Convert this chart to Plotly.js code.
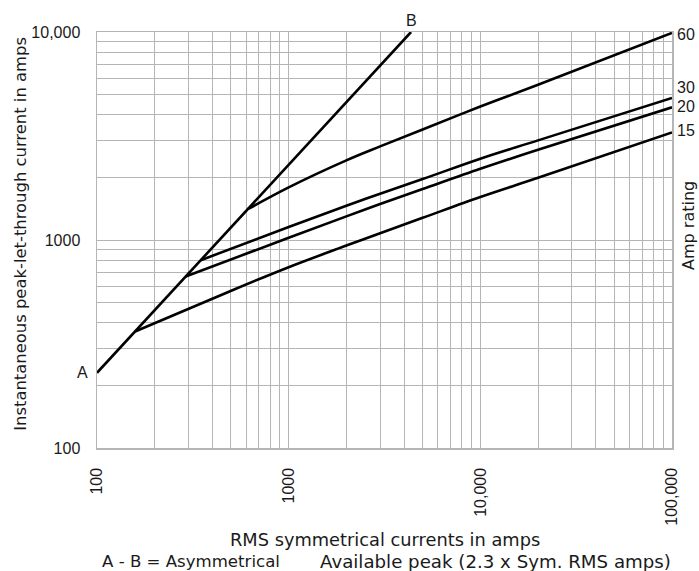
<!DOCTYPE html>
<html>
<head>
<meta charset="utf-8">
<script src="https://cdn.plot.ly/plotly-3.0.1.min.js"></script>
<style>html,body{margin:0;padding:0;background:#fff;}#chart{width:699px;height:571px;}</style>
</head>
<body>
<div id="chart"></div>
<script>
// Asymmetrical available peak line A-B
const xAB = [100, 4350];
const yAB = [230, 10000];

// Let-through curves by amp rating
const x15 = [158, 516, 1000, 2000, 3000, 5000, 10000, 20000, 100000];
const y15 = [363, 577, 740, 940, 1078, 1278, 1610, 1990, 3290];

const x20 = [290, 1000, 2000, 3000, 5000, 10000, 20000, 100000];
const y20 = [667, 1026, 1299, 1489, 1758, 2200, 2716, 4342];

const x30 = [348, 1000, 2000, 3000, 5000, 10000, 20000, 100000];
const y30 = [800, 1155, 1462, 1670, 1963, 2460, 3013, 4819];

const x60 = [615, 1000, 2000, 3000, 5000, 10000, 20000, 100000];
const y60 = [1410, 1791, 2415, 2818, 3400, 4380, 5580, 9900];

const ratingLabels = ['15', '20', '30', '60'];

const xDecadeLabels = ['100', '1000', '10,000', '100,000'];
const yDecadeLabels = ['100', '1000', '10,000'];

function logGrid(startExp, endExp, labels) {
  const vals = [], text = [];
  let li = 0;
  for (let e = startExp; e <= endExp; e++) {
    const base = Math.pow(10, e);
    for (let m = 1; m <= 9; m++) {
      if (e === endExp && m > 1) break;
      vals.push(m * base);
      text.push(m === 1 ? labels[li++] : '');
    }
  }
  return {vals, text};
}
const xg = logGrid(2, 5, xDecadeLabels);
const yg = logGrid(2, 4, yDecadeLabels);

const lineStyle = {color: '#000', width: 2.6, shape: 'spline', smoothing: 1.0};
const traces = [
  {x: xAB, y: yAB, mode: 'lines', line: {color: '#000', width: 2.6}},
  {x: x15, y: y15, mode: 'lines', line: lineStyle},
  {x: x20, y: y20, mode: 'lines', line: lineStyle},
  {x: x30, y: y30, mode: 'lines', line: lineStyle},
  {x: x60, y: y60, mode: 'lines', line: lineStyle}
];

const fnt = {family: 'Liberation Sans, Arial, sans-serif', size: 16, color: '#1a1a1a'};
const wideFam = 'DejaVu Sans, sans-serif';
const ends = [y15, y20, y30, y60];
const shifts = [2, 1, 10, -2];
const annotations = ratingLabels.map((t, i) => ({
  text: t, xref: 'paper', x: 1, xanchor: 'left', xshift: 3,
  yref: 'y', y: Math.log10(ends[i][ends[i].length - 1]), yshift: shifts[i],
  showarrow: false, font: fnt
}));
annotations.push(
  {text: 'A', xref: 'paper', x: 0, xanchor: 'right', xshift: -7, yref: 'y', y: Math.log10(yAB[0]),
   showarrow: false, font: fnt},
  {text: 'B', xref: 'x', x: Math.log10(xAB[1]), yref: 'paper', y: 1, yanchor: 'bottom', yshift: 1,
   showarrow: false, font: fnt},
  {text: 'Amp rating', xref: 'paper', x: 1, xanchor: 'left', xshift: 5, yref: 'paper', y: 0.535,
   textangle: -90, showarrow: false, font: {family: wideFam, size: 16, color: '#1a1a1a'}},
  {text: 'Instantaneous peak-let-through current in amps', xref: 'paper', x: 0, xanchor: 'center', xshift: -76,
   yref: 'paper', y: 0.515, textangle: -90, showarrow: false, font: {family: wideFam, size: 16.4, color: '#1a1a1a'}},
  {text: 'RMS symmetrical currents in amps', xref: 'paper', x: 0.5, yref: 'paper', y: 0, yanchor: 'middle', yshift: -91,
   showarrow: false, font: {family: wideFam, size: 17.8, color: '#1a1a1a'}},
  {text: 'A - B = Asymmetrical', xref: 'paper', x: 0, xanchor: 'right', xshift: 185,
   yref: 'paper', y: 0, yanchor: 'middle', yshift: -113, showarrow: false, font: {family: wideFam, size: 16.6, color: '#1a1a1a'}},
  {text: 'Available peak (2.3 x Sym. RMS amps)', xref: 'paper', x: 0, xanchor: 'left', xshift: 221,
   yref: 'paper', y: 0, yanchor: 'middle', yshift: -113, showarrow: false, font: {family: wideFam, size: 18.2, color: '#1a1a1a'}}
);

const layout = {
  width: 699, height: 571,
  margin: {l: 97, r: 27, t: 32, b: 123},
  paper_bgcolor: '#fff', plot_bgcolor: '#fff',
  showlegend: false,
  font: fnt,
  xaxis: {
    type: 'log', range: [2, 5], tickmode: 'array', tickvals: xg.vals, ticktext: xg.text,
    tickangle: -90, showgrid: true, gridcolor: '#b5b5b5', gridwidth: 1,
    showline: true, linecolor: '#b5b5b5', linewidth: 1.5, mirror: true,
    ticks: '', ticklabelstandoff: 12, zeroline: false, tickfont: fnt
  },
  yaxis: {
    type: 'log', range: [2, 4], tickmode: 'array', tickvals: yg.vals, ticktext: yg.text,
    showgrid: true, gridcolor: '#b5b5b5', gridwidth: 1,
    showline: true, linecolor: '#b5b5b5', linewidth: 1.5, mirror: true,
    ticks: '', ticklabelstandoff: 12, zeroline: false, tickfont: fnt
  },
  annotations: annotations
};

Plotly.newPlot('chart', traces, layout, {displayModeBar: false, staticPlot: true});
</script>
</body>
</html>
